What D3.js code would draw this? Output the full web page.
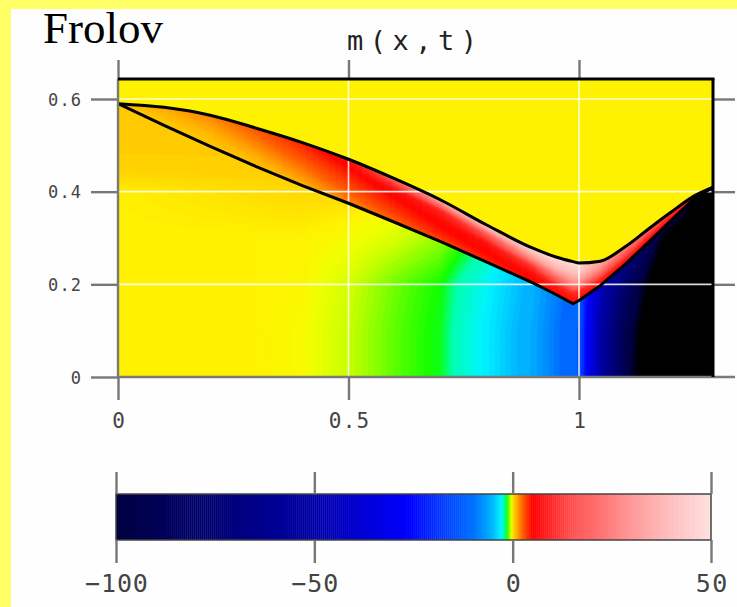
<!DOCTYPE html>
<html>
<head>
<meta charset="utf-8">
<script src="https://cdnjs.cloudflare.com/ajax/libs/d3/7.8.5/d3.min.js"></script>
<style>
  body { margin: 0; background: #ffff66; }
  svg { display: block; }
  .lbl { font-family: "DejaVu Sans Mono", monospace; fill: #444; }
</style>
</head>
<body>
<svg width="737" height="607"></svg>
<script>
// tick values
var xTicks = [0, 0.5, 1];
var yTicks = [0, 0.2, 0.4, 0.6];
var barTicks = [-100, -50, 0, 50];

// the two black curves, sampled at the same x
var curveX = [0, 0.1, 0.2, 0.3, 0.4, 0.5, 0.6, 0.7, 0.8, 0.9, 0.95, 0.987, 1.0, 1.046, 1.1, 1.15, 1.2, 1.25, 1.291];
var upperT = [0.59, 0.582, 0.565, 0.537, 0.506, 0.470, 0.428, 0.382, 0.328, 0.278, 0.259, 0.249, 0.246, 0.250, 0.281, 0.319, 0.356, 0.391, 0.41];
var lowerT = [0.59, 0.543, 0.498, 0.454, 0.413, 0.375, 0.334, 0.292, 0.248, 0.203, 0.178, 0.158, 0.165, 0.197, 0.243, 0.290, 0.338, 0.385, 0.41];

// m below the lower curve, one row per t
var fieldX = [0, 0.1, 0.2, 0.3, 0.4, 0.5, 0.6, 0.7, 0.8, 0.9, 1.0, 1.1, 1.2, 1.3];
var fieldT = [0, 0.1, 0.2, 0.3, 0.4, 0.5, 0.6];
var fieldT0 = [0, 0, 0, 0, -0.1, -0.5, -1.1, -1.6, -3.2, -6, -13, -95, -150, -150];
var fieldT1 = [0, 0, 0, 0, -0.1, -0.5, -1.1, -1.6, -3.2, -6, -13, -92, -150, -150];
var fieldT2 = [0, 0, 0, 0, -0.05, -0.4, -1.0, -1.5, -2.9, -5.5, -12, -80, -140, -150];
var fieldT3 = [0, 0, 0, 0, 0, -0.1, -0.35, -0.8, -1.8, -4, -9, -55, -120, -150];
var fieldT4 = [0.02, 0.05, 0.08, 0.12, 0.15, 0.15, 0.1, -0.3, -1.2, -3, -7, -35, -60, -150];
var fieldT5 = [0.4, 0.4, 0.4, 0.38, 0.35, 0.3, 0.2, 0, -1, -3, -7, -35, -60, -150];
var fieldT6 = [0.45, 0.45, 0.45, 0.45, 0.4, 0.3, 0.2, 0, -1, -3, -7, -35, -60, -150];
var fieldRows = [fieldT0, fieldT1, fieldT2, fieldT3, fieldT4, fieldT5, fieldT6];

// m inside the band, from the lower edge (s=0) to the upper edge (s=1)
var bandX = [0, 0.1, 0.2, 0.3, 0.4, 0.5, 0.6, 0.7, 0.8, 0.9, 0.95, 1.0, 1.05, 1.1, 1.2, 1.29];
var bandS = [0, 0.25, 0.5, 0.75, 1];
var bandS0 = [0.4, 0.4, 0.45, 0.5, 0.9, 1.6, 2.4, 3.2, 4, 4.5, 5, 5, 5, 5, 5, 5];
var bandS1 = [0.4, 0.5, 0.7, 1.0, 1.6, 2.6, 3.6, 4.5, 5, 6, 8, 10, 9, 8, 6, 5];
var bandS2 = [0.5, 0.7, 1.0, 1.6, 2.4, 3.6, 4.6, 5.5, 6.5, 12, 22, 28, 18, 14, 8, 6];
var bandS3 = [0.6, 0.9, 1.4, 2.2, 3.3, 4.6, 6, 9, 16, 32, 40, 42, 28, 20, 11, 7];
var bandS4 = [0.8, 1.2, 1.9, 2.8, 4.2, 6, 18, 34, 44, 48, 50, 48, 32, 24, 14, 8];
var bandRows = [bandS0, bandS1, bandS2, bandS3, bandS4];

// colour map of m
var colorStops = [-150, -110, -100, -50, -26, -10, -5, -3, -2, -1.5, -1, -0.5, -0.15, 0, 0.1, 0.2, 1, 2.5, 5, 15, 30, 50];
var colorValues = ["#000000", "#000000", "#000040", "#0000a8", "#0000ff", "#0070ff", "#00b8ff", "#00f4ff", "#00ffb0",
                   "#10ff00", "#70ff00", "#c8ff00", "#f4ff00", "#fff200", "#ffe000", "#ffd400", "#ffb000",
                   "#ff6000", "#ff0000", "#ff5050", "#ff9a9a", "#ffe0e0"];

var svg = d3.select("svg");

// white panel inside the yellow frame
svg.append("rect")
    .attr("x", 11).attr("y", 9)
    .attr("width", 737 - 11).attr("height", 607 - 9)
    .attr("fill", "#fefefe");

var plot = {left: 118, right: 713, top: 79, bottom: 377};
var x = d3.scaleLinear().domain([0, 1]).range([118, 579]),
    y = d3.scaleLinear().domain([0, 0.6]).range([377, 99]);
var xMax = x.invert(plot.right);

var color = d3.scaleLinear().domain(colorStops).range(colorValues).clamp(true);

// upper curve is smooth, lower one keeps its sharp tip
var curvePts = curveX.map(function(v, i) { return {x: v, lo: lowerT[i], hi: upperT[i]}; });
var upperLine = d3.line()
    .x(function(d) { return x(d.x); })
    .y(function(d) { return y(d.hi); })
    .curve(d3.curveMonotoneX);
var lowerLine = d3.line()
    .x(function(d) { return x(d.x); })
    .y(function(d) { return y(d.lo); });

// clip paths: plot box, region under the lower curve, band between curves
var defs = svg.append("defs");
defs.append("clipPath").attr("id", "plotClip")
    .append("rect")
    .attr("x", plot.left).attr("y", plot.top)
    .attr("width", plot.right - plot.left).attr("height", plot.bottom - plot.top);
defs.append("clipPath").attr("id", "lowClip")
    .append("path")
    .attr("d", lowerLine(curvePts) + "L" + x(xMax) + "," + (plot.bottom + 4) +
               "L" + x(0) + "," + (plot.bottom + 4) + "Z");
defs.append("clipPath").attr("id", "bandClip")
    .append("path")
    .attr("d", upperLine(curvePts) + "L" + lowerLine(curvePts.slice().reverse()).slice(1) + "Z");

var g = svg.append("g").attr("clip-path", "url(#plotClip)");

// yellow background
g.append("rect")
    .attr("x", plot.left).attr("y", plot.top)
    .attr("width", plot.right - plot.left).attr("height", plot.bottom - plot.top)
    .attr("fill", color(0));

// field under the lower curve, filled contours of a bilinear grid
var step = 0.005, nx = 262, nt = 131;
var rowAt = fieldRows.map(function(row) {
    return d3.scaleLinear().domain(fieldX).range(row).clamp(true);
});
var values = new Array(nx * nt);
for (var i = 0; i < nx; i++) {
    var col = d3.scaleLinear().domain(fieldT)
        .range(rowAt.map(function(f) { return f(i * step); })).clamp(true);
    for (var j = 0; j < nt; j++) values[j * nx + i] = col(j * step);
}
var thresholds = [];
for (var k = 0; k < colorStops.length - 1; k++) {
    for (var m = 0; m < 6; m++) {
        thresholds.push(colorStops[k] + (colorStops[k + 1] - colorStops[k]) * m / 6);
    }
}
thresholds.push(colorStops[colorStops.length - 1]);
var levelColor = function(d, n) {
    var v = n < thresholds.length - 1 ? (thresholds[n] + thresholds[n + 1]) / 2 : d.value;
    return color(v);
};
var contours = d3.contours().size([nx, nt]).thresholds(thresholds)(values);
var gridPath = d3.geoPath(d3.geoTransform({
    point: function(cx, cy) { this.stream.point(x((cx - 0.5) * step), y((cy - 0.5) * step)); }
}));
g.append("g").attr("clip-path", "url(#lowClip)")
    .selectAll("path")
    .data(contours)
    .enter().append("path")
    .attr("d", gridPath)
    .attr("fill", levelColor)
    .attr("stroke", levelColor)
    .attr("stroke-width", 0.6);

// band cells between the curves
var lowAt = d3.scaleLinear().domain(curveX).range(lowerT).clamp(true),
    upAt = d3.scaleLinear().domain(curveX).range(upperT).clamp(true);
var bandAt = bandRows.map(function(row) {
    return d3.scaleLinear().domain(bandX).range(row).clamp(true);
});
var pointAt = function(xv, s) {
    var lo = lowAt(xv), hi = upAt(xv);
    return x(xv) + "," + y(lo + s * (hi - lo));
};
var cells = [];
var cx = d3.range(0, xMax + 0.005, 0.005),
    cs = d3.range(-0.2, 1.2001, 0.05);
for (var a = 0; a < cx.length - 1; a++) {
    var xm = (cx[a] + cx[a + 1]) / 2;
    var across = d3.scaleLinear().domain(bandS)
        .range(bandAt.map(function(f) { return f(xm); })).clamp(true);
    for (var b = 0; b < cs.length - 1; b++) {
        cells.push({
            d: "M" + pointAt(cx[a], cs[b]) + "L" + pointAt(cx[a + 1], cs[b]) +
               "L" + pointAt(cx[a + 1], cs[b + 1]) + "L" + pointAt(cx[a], cs[b + 1]) + "Z",
            v: across((cs[b] + cs[b + 1]) / 2)
        });
    }
}
g.append("g").attr("clip-path", "url(#bandClip)")
    .selectAll("path")
    .data(cells)
    .enter().append("path")
    .attr("d", function(d) { return d.d; })
    .attr("fill", function(d) { return color(d.v); })
    .attr("stroke", function(d) { return color(d.v); })
    .attr("stroke-width", 0.6);

// white grid lines
g.selectAll(".vgrid")
    .data(xTicks.filter(function(d) { return d > 0; }))
    .enter().append("line")
    .attr("x1", function(d) { return x(d); }).attr("x2", function(d) { return x(d); })
    .attr("y1", plot.top).attr("y2", plot.bottom)
    .attr("stroke", "#fff").attr("stroke-opacity", 0.85).attr("stroke-width", 1.6);
g.selectAll(".hgrid")
    .data(yTicks.filter(function(d) { return d > 0; }))
    .enter().append("line")
    .attr("x1", plot.left).attr("x2", plot.right)
    .attr("y1", function(d) { return y(d); }).attr("y2", function(d) { return y(d); })
    .attr("stroke", "#fff").attr("stroke-opacity", 0.85).attr("stroke-width", 1.6);

// the two curves
[upperLine, lowerLine].forEach(function(line) {
    g.append("path")
        .attr("d", line(curvePts))
        .attr("fill", "none")
        .attr("stroke", "#000")
        .attr("stroke-width", 3)
        .attr("stroke-linejoin", "round");
});

// axes and frame
var styleTicks = function(sel) {
    sel.select(".domain").remove();
    sel.selectAll(".tick line").attr("stroke", "#777").attr("stroke-width", 2.4);
};
var fmt = d3.format("~g");

svg.append("g")
    .attr("transform", "translate(0," + plot.bottom + ")")
    .call(d3.axisBottom(x).tickValues(xTicks).tickSize(23).tickFormat(fmt))
    .call(styleTicks)
    .selectAll("text")
    .attr("class", "lbl").attr("fill", null)
    .attr("y", 51).attr("dy", null)
    .style("font-size", "21px")
    .attr("textLength", function(d) { return fmt(d).length * 13.5; })
    .attr("lengthAdjust", "spacing");

svg.append("g")
    .attr("transform", "translate(" + plot.left + ",0)")
    .call(d3.axisLeft(y).tickValues(yTicks).tickSize(27).tickFormat(fmt))
    .call(styleTicks)
    .selectAll("text")
    .attr("class", "lbl").attr("fill", null)
    .attr("x", -37).attr("dy", "0.36em")
    .style("font-size", "17px")
    .attr("textLength", function(d) { return fmt(d).length * 11; })
    .attr("lengthAdjust", "spacing");

svg.append("g")
    .attr("transform", "translate(0," + plot.top + ")")
    .call(d3.axisTop(x).tickValues(xTicks).tickSize(19).tickFormat(""))
    .call(styleTicks);

svg.append("g")
    .attr("transform", "translate(" + plot.right + ",0)")
    .call(d3.axisRight(y).tickValues(yTicks.filter(function(d) { return d > 0; })).tickSize(22).tickFormat(""))
    .call(styleTicks);

// frame: gray left and bottom, black top and right
svg.append("line")
    .attr("x1", plot.left).attr("x2", plot.left)
    .attr("y1", plot.top).attr("y2", plot.bottom)
    .attr("stroke", "#7a7a7a").attr("stroke-width", 2.4);
svg.append("line")
    .attr("x1", plot.left).attr("x2", 735)
    .attr("y1", plot.bottom).attr("y2", plot.bottom)
    .attr("stroke", "#7a7a7a").attr("stroke-width", 2.4);
svg.append("line")
    .attr("x1", plot.left).attr("x2", plot.right + 1.5)
    .attr("y1", plot.top).attr("y2", plot.top)
    .attr("stroke", "#000").attr("stroke-width", 3);
svg.append("line")
    .attr("x1", plot.right).attr("x2", plot.right)
    .attr("y1", plot.top).attr("y2", plot.bottom)
    .attr("stroke", "#000").attr("stroke-width", 3);

// titles
svg.append("text")
    .attr("x", 43).attr("y", 43)
    .style("font-family", "'Liberation Serif', 'Times New Roman', serif")
    .style("font-size", "45px")
    .attr("fill", "#000")
    .text("Frolov");

svg.append("text")
    .attr("class", "lbl")
    .attr("x", 412).attr("y", 50)
    .attr("text-anchor", "middle")
    .style("font-size", "27px")
    .style("fill", "#222")
    .attr("textLength", 130).attr("lengthAdjust", "spacing")
    .text("m(x,t)");

// colour bar
var bar = {top: 494, bottom: 540};
var cb = d3.scaleLinear().domain([-100, 50]).range([116, 711]);
var barCells = d3.range(-100, 50, 0.5);
svg.append("g")
    .selectAll("rect")
    .data(barCells)
    .enter().append("rect")
    .attr("x", function(d) { return cb(d); })
    .attr("width", cb(0.5) - cb(0) + 0.4)
    .attr("y", bar.top).attr("height", bar.bottom - bar.top)
    .attr("fill", function(d) { return color(d + 0.25); });
svg.append("rect")
    .attr("x", cb(-100)).attr("y", bar.top)
    .attr("width", cb(50) - cb(-100)).attr("height", bar.bottom - bar.top)
    .attr("fill", "none").attr("stroke", "#444").attr("stroke-width", 1.5);

svg.append("g")
    .attr("transform", "translate(0," + bar.top + ")")
    .call(d3.axisTop(cb).tickValues(barTicks).tickSize(22).tickFormat(""))
    .call(styleTicks);

svg.append("g")
    .attr("transform", "translate(0," + bar.bottom + ")")
    .call(d3.axisBottom(cb).tickValues(barTicks).tickSize(23).tickFormat(fmt))
    .call(styleTicks)
    .selectAll("text")
    .attr("class", "lbl").attr("fill", null)
    .attr("y", 52).attr("dy", null)
    .style("font-size", "25px")
    .attr("textLength", function(d) { return fmt(d).length * 15.7; })
    .attr("lengthAdjust", "spacing");
</script>
</body>
</html>
